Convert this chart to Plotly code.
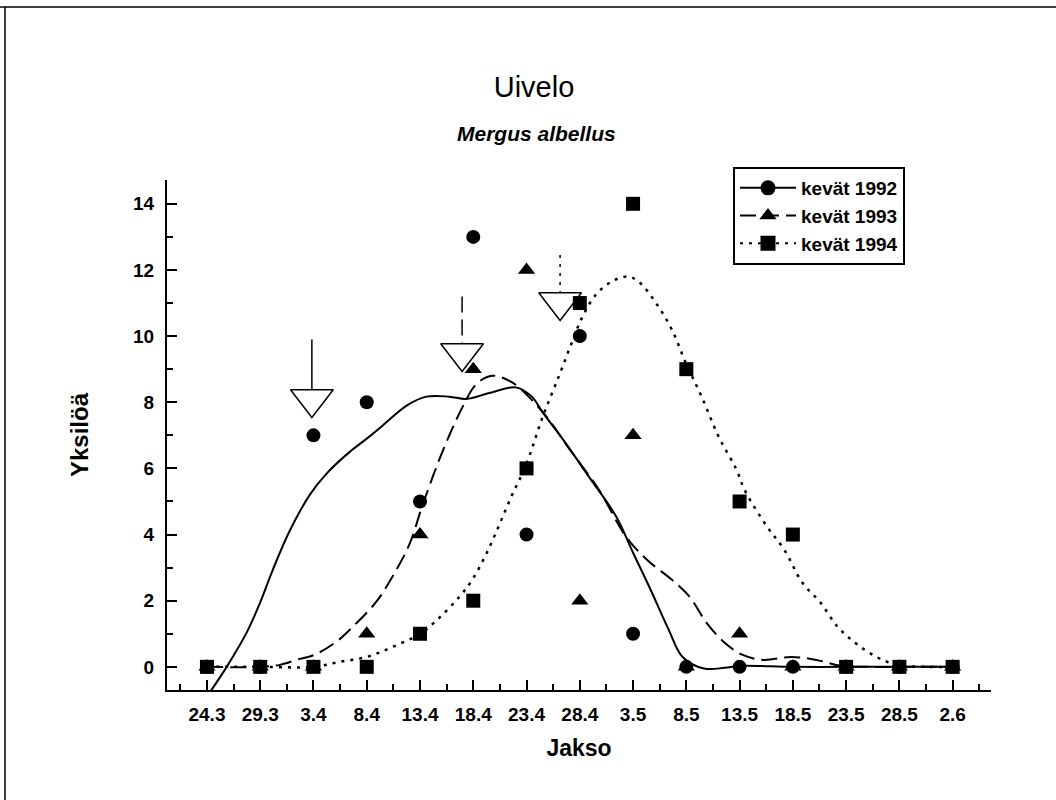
import plotly.graph_objects as go

# ---------------- data ----------------
categories = ["24.3", "29.3", "3.4", "8.4", "13.4", "18.4", "23.4", "28.4",
              "3.5", "8.5", "13.5", "18.5", "23.5", "28.5", "2.6"]
cat_pos = list(range(len(categories)))

y1992 = [0, 0, 7, 8, 5, 13, 4, 10, 1, 0, 0, 0, 0, 0, 0]
y1993 = [0, 0, 0, 1, 4, 9, 12, 2, 7, 0, 1, 0, 0, 0, 0]
y1994 = [0, 0, 0, 0, 1, 2, 6, 11, 14, 9, 5, 4, 0, 0, 0]

# smoothed curves (x = category position)
c1992_x = [0.0, 0.37, 0.75, 1.0, 1.24, 1.55, 1.93, 2.25, 2.68, 3.0, 3.3, 3.75, 4.12, 4.55,
           4.87, 5.3, 5.8, 6.1, 6.3, 6.74, 7.17, 7.68, 8.0, 8.33, 8.67, 8.93, 9.33, 9.72,
           10.0, 11.0, 12.0, 13.0, 14.0]
c1992_y = [-0.9, 0.0, 1.05, 1.95, 2.95, 4.1, 5.2, 5.85, 6.5, 6.9, 7.3, 7.9, 8.17, 8.17,
           8.1, 8.28, 8.45, 8.17, 7.7, 6.75, 5.75, 4.55, 3.45, 2.33, 1.12, 0.3, -0.05, -0.03,
           0.03, 0.0, 0.0, 0.0, 0.0]

c1993_x = [0.0, 1.0, 1.37, 1.74, 2.0, 2.43, 2.73, 3.18, 3.48, 3.8, 4.05, 4.42, 4.8, 5.06,
           5.36, 5.73, 6.1, 6.42, 6.8, 7.36, 7.87, 8.26, 8.73, 9.06, 9.38, 9.72, 10.06,
           10.45, 10.97, 11.44, 11.91, 12.5, 13.0, 14.0]
c1993_y = [0.0, 0.0, 0.06, 0.24, 0.35, 0.76, 1.2, 1.97, 2.72, 3.7, 4.9, 6.5, 7.86, 8.55,
           8.8, 8.6, 8.07, 7.47, 6.6, 5.35, 3.93, 3.24, 2.63, 2.12, 1.33, 0.73, 0.36,
           0.21, 0.3, 0.21, 0.03, 0.0, 0.0, 0.0]

c1994_x = [0.0, 1.0, 2.0, 2.49, 3.0, 3.48, 4.0, 4.36, 4.74, 4.98, 5.24, 5.49, 5.73, 5.99,
           6.29, 6.61, 6.85, 7.04, 7.3, 7.6, 7.9, 8.11, 8.43, 8.73, 8.99, 9.29, 9.61, 9.93,
           10.11, 10.52, 10.84, 11.18, 11.52, 11.84, 12.17, 12.57, 12.96, 13.5, 14.0]
c1994_y = [0.0, 0.0, 0.0, 0.15, 0.3, 0.6, 1.0, 1.48, 2.12, 2.63, 3.4, 4.3, 5.2, 6.1,
           7.5, 8.8, 9.8, 10.55, 11.25, 11.65, 11.8, 11.64, 11.0, 10.19, 9.19, 8.16, 6.95, 6.0,
           5.3, 4.23, 3.54, 2.54, 1.94, 1.21, 0.73, 0.3, 0.06, 0.0, 0.0]

# arrival arrows (one per spring): position, stem top, stem bottom, head centre
arrow_x = [1.97, 4.79, 6.63]
arrow_stem_top = [9.9, 11.2, 12.45]
arrow_stem_bottom = [8.38, 9.77, 11.31]
arrow_head = [8.1, 9.49, 11.03]

series_names = ["kevät 1992", "kevät 1993", "kevät 1994"]

# ---------------- styles ----------------
FONT = "Liberation Sans"
dashes = ["solid", "16px,7px", "3px,6px"]
symbols = ["circle", "triangle-up", "square"]
msizes = [14, 15, 14]

fig = go.Figure()

# arrows
for i in range(3):
    fig.add_trace(go.Scatter(
        x=[arrow_x[i], arrow_x[i]], y=[arrow_stem_top[i], arrow_stem_bottom[i]],
        mode="lines", line=dict(color="black", width=1.5, dash=dashes[i]),
        showlegend=False, hoverinfo="skip"))
fig.add_trace(go.Scatter(
    x=arrow_x, y=arrow_head, mode="markers",
    marker=dict(symbol="triangle-down", size=37, color="white",
                line=dict(color="black", width=1.5)),
    showlegend=False, hoverinfo="skip"))

# curves
curves = [(c1992_x, c1992_y), (c1993_x, c1993_y), (c1994_x, c1994_y)]
for i, (cx, cy) in enumerate(curves):
    fig.add_trace(go.Scatter(
        x=cx, y=cy, mode="lines", line_shape="spline",
        line=dict(color="black", width=2 if i < 2 else 2.5, dash=dashes[i]),
        showlegend=False, hoverinfo="skip"))

# points (order: 1993, 1992, 1994 on top)
pts = [y1992, y1993, y1994]
for i in [1, 0, 2]:
    fig.add_trace(go.Scatter(
        x=cat_pos, y=pts[i], mode="markers",
        marker=dict(symbol=symbols[i], size=msizes[i], color="black"),
        showlegend=False, name=series_names[i]))

# legend entries
for i in range(3):
    fig.add_trace(go.Scatter(
        x=[None], y=[None], mode="lines+markers", name=series_names[i],
        line=dict(color="black", width=2, dash=dashes[i]),
        marker=dict(symbol=symbols[i], size=15, color="black")))

# frame lines of the scanned page
L, T = 167, 180
W, H = 824, 510
def px(xp):
    return (xp - L) / W
def py(yp):
    return (T + H - yp) / H

fig.add_shape(type="line", xref="paper", yref="paper",
              x0=px(5), x1=px(5), y0=py(7), y1=py(800),
              line=dict(color="black", width=1.5))
fig.add_shape(type="line", xref="paper", yref="paper",
              x0=px(0), x1=px(1056), y0=py(7), y1=py(7),
              line=dict(color="black", width=1.5))

fig.add_annotation(text="<b><i>Mergus albellus</i></b>", xref="paper", yref="paper",
                   x=px(536), y=py(120), showarrow=False,
                   font=dict(family=FONT, size=21, color="black"))

fig.update_layout(
    width=1056, height=800,
    margin=dict(l=L, r=1056 - L - W, t=T, b=800 - T - H),
    paper_bgcolor="white", plot_bgcolor="white",
    title=dict(text="Uivelo", xref="container", yref="container",
               x=534 / 1056, y=1 - 87 / 800, xanchor="center", yanchor="middle",
               font=dict(family=FONT, size=29, color="black")),
    legend=dict(x=px(733), y=py(167), xanchor="left", yanchor="top",
                bordercolor="black", borderwidth=2, bgcolor="white",
                font=dict(family=FONT, size=19, color="black", weight="bold"),
                itemwidth=56, tracegroupgap=0),
    xaxis=dict(range=[-0.75, 14.72], tickmode="array", tickvals=cat_pos, ticktext=categories,
               showline=True, linecolor="black", linewidth=2, showgrid=False, zeroline=False,
               ticks="inside", ticklen=10, tickwidth=1.5, tickcolor="black",
               ticklabelstandoff=6,
               tickfont=dict(family=FONT, size=19, color="black", weight="bold"),
               minor=dict(tickmode="array", tickvals=[p + 0.5 for p in range(-1, 15)],
                          ticks="inside", ticklen=6, tickwidth=1.5, tickcolor="black"),
               title=dict(text="Jakso", standoff=16,
                          font=dict(family=FONT, size=23, color="black", weight="bold"))),
    yaxis=dict(range=[-0.7, 14.72], tickmode="array", tickvals=list(range(0, 15, 2)),
               showline=True, linecolor="black", linewidth=2, showgrid=False, zeroline=False,
               ticks="inside", ticklen=10, tickwidth=1.5, tickcolor="black",
               ticklabelstandoff=7,
               tickfont=dict(family=FONT, size=19, color="black", weight="bold"),
               minor=dict(tickmode="array", tickvals=list(range(1, 15, 2)),
                          ticks="inside", ticklen=6, tickwidth=1.5, tickcolor="black"),
               title=dict(text="Yksilöä", standoff=38,
                          font=dict(family=FONT, size=24, color="black", weight="bold"))),
)

fig.write_html("out.html")
